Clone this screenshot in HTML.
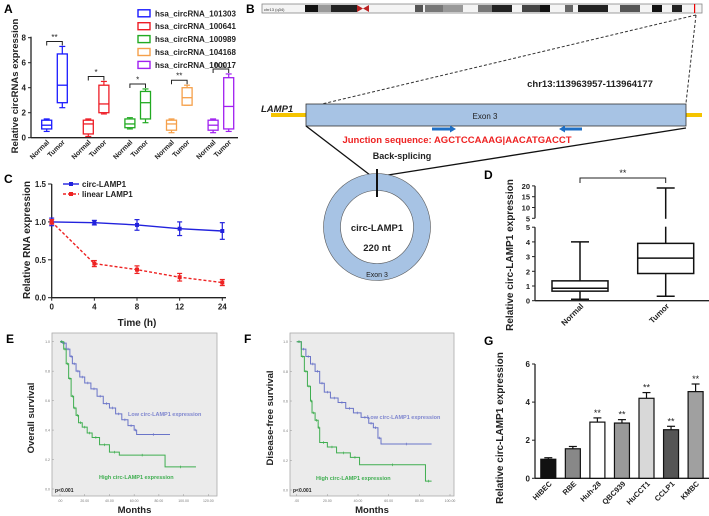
<!DOCTYPE html>
<html><head><meta charset="utf-8"><style>
html,body{margin:0;padding:0;background:#fff;}
svg{display:block;font-family:"Liberation Sans",Arial,sans-serif;}
</style></head><body>
<svg id="fig" width="709" height="516" viewBox="0 0 709 516" xmlns="http://www.w3.org/2000/svg">
<!-- Panel labels -->
<text x="4" y="13" font-size="12" font-weight="bold">A</text>
<text x="246" y="13" font-size="12" font-weight="bold">B</text>
<text x="4" y="183" font-size="12" font-weight="bold">C</text>
<text x="484" y="179" font-size="12" font-weight="bold">D</text>
<text x="6" y="343" font-size="12" font-weight="bold">E</text>
<text x="244" y="343" font-size="12" font-weight="bold">F</text>
<text x="484" y="345" font-size="12" font-weight="bold">G</text>

<!-- Panel B diagram -->
<g>
<rect x="262" y="4" width="440" height="9" fill="#f4f4f4" stroke="#888" stroke-width="0.8"/>
<g>
<text x="264" y="11" font-size="4" fill="#333">chr13 (q34)</text>
<rect x="305" y="5" width="13" height="7" fill="#111"/><rect x="318" y="5" width="13" height="7" fill="#999"/><rect x="331" y="5" width="26" height="7" fill="#222"/>
<path d="M357 5 L363 8.5 L357 12 Z M369 5 L363 8.5 L369 12 Z" fill="#b22"/>
<rect x="415" y="5" width="8" height="7" fill="#555"/><rect x="425" y="5" width="18" height="7" fill="#777"/><rect x="443" y="5" width="20" height="7" fill="#999"/>
<rect x="478" y="5" width="14" height="7" fill="#777"/><rect x="492" y="5" width="20" height="7" fill="#222"/><rect x="522" y="5" width="18" height="7" fill="#444"/>
<rect x="540" y="5" width="10" height="7" fill="#111"/><rect x="565" y="5" width="8" height="7" fill="#666"/><rect x="578" y="5" width="30" height="7" fill="#222"/>
<rect x="620" y="5" width="20" height="7" fill="#555"/><rect x="652" y="5" width="10" height="7" fill="#111"/><rect x="672" y="5" width="10" height="7" fill="#222"/>
<rect x="694" y="4" width="1.2" height="9" fill="#e00"/>
</g>
<line x1="696" y1="15" x2="322" y2="104" stroke="#333" stroke-width="1" stroke-dasharray="3,2"/>
<line x1="696" y1="15" x2="686" y2="103" stroke="#333" stroke-width="1" stroke-dasharray="3,2"/>
<text x="590" y="87" font-size="9.5" font-weight="bold" text-anchor="middle" fill="#222">chr13:113963957-113964177</text>
<rect x="271" y="113" width="431" height="4" fill="#f5c400"/>
<text x="261" y="112" font-size="9.5" font-weight="bold" font-style="italic" fill="#222">LAMP1</text>
<rect x="306" y="104" width="380" height="22" fill="#a7c3e4" stroke="#333" stroke-width="0.8"/>
<text x="485" y="119" font-size="8" text-anchor="middle" fill="#222">Exon 3</text>
<path d="M432 127.5 H450 V125.5 L456 129 L450 132.5 V130.5 H432 Z" fill="#1f6fc4"/>
<path d="M582 127.5 H565 V125.5 L559 129 L565 132.5 V130.5 H582 Z" fill="#1f6fc4"/>
<text x="457" y="143" font-size="9.5" font-weight="bold" text-anchor="middle" fill="#ee2222">Junction sequence: AGCTCCAAAG|AACATGACCT</text>
<line x1="306" y1="126" x2="370" y2="175" stroke="#111" stroke-width="1.3"/>
<line x1="686" y1="128" x2="388" y2="175" stroke="#111" stroke-width="1.3"/>
<text x="402" y="159" font-size="9" font-weight="bold" text-anchor="middle" fill="#222">Back-splicing</text>
<circle cx="377" cy="227" r="45" fill="none" stroke="#a7c3e4" stroke-width="17"/>
<circle cx="377" cy="227" r="53.5" fill="none" stroke="#555" stroke-width="0.6"/>
<circle cx="377" cy="227" r="36.5" fill="none" stroke="#555" stroke-width="0.6"/>
<line x1="377" y1="169" x2="377" y2="197" stroke="#111" stroke-width="2"/>
<text x="377" y="231" font-size="9.5" font-weight="bold" text-anchor="middle" fill="#222">circ-LAMP1</text>
<text x="377" y="251" font-size="9.5" font-weight="bold" text-anchor="middle" fill="#222">220 nt</text>
<text x="377" y="277" font-size="7" text-anchor="middle" fill="#222">Exon 3</text>
</g>
<g id="charts"></g>
</svg>
<script>
// ---------- Panel A data ----------
const aGroups = ["hsa_circRNA_101303","hsa_circRNA_100641","hsa_circRNA_100989","hsa_circRNA_104168","hsa_circRNA_100017"];
const aNormal = [[0.5,0.7,1.0,1.4,1.5],[0.1,0.3,1.1,1.4,1.5],[0.7,0.8,1.1,1.5,1.6],[0.4,0.6,1.1,1.4,1.5],[0.4,0.6,1.0,1.4,1.5]];
const aTumor = [[2.4,2.8,4.2,6.7,7.3],[1.9,2.0,2.7,4.2,4.5],[1.2,1.5,2.8,3.7,3.9],[2.6,2.6,3.2,4.0,4.2],[0.5,0.7,2.5,4.8,5.1]];
const aSig = ["**","*","*","**","n.s."];
const aTicks = [0,2,4,6,8];
// ---------- Panel C data ----------
const cTimes = ["0","4","8","12","24"];
const cCirc = [1.0,0.99,0.96,0.91,0.88];
const cCircErr = [0.05,0.03,0.07,0.09,0.11];
const cLinear = [1.0,0.45,0.37,0.27,0.20];
const cLinearErr = [0.03,0.04,0.05,0.05,0.04];
const cTicks = [0,0.5,1.0,1.5];
// ---------- Panel D data ----------
const dGroups = ["Normal","Tumor"];
const dStats = [[0.1,0.65,0.85,1.35,4.0],[0.3,1.85,2.9,3.9,19]];
const dLowTicks = [0,1,2,3,4,5];
const dHighTicks = [5,10,15,20];
// ---------- Panel E data ----------
const eLowMonths = [0,2,5,8,10,13,16,20,25,30,35,40,45,50,55,60,62,89];
const eLowSurv = [1.0,0.99,0.95,0.9,0.85,0.8,0.76,0.72,0.68,0.63,0.58,0.55,0.51,0.47,0.43,0.40,0.37,0.37];
const eHighMonths = [0,3,5,7,9,11,13,15,18,22,26,32,40,48,85,110];
const eHighSurv = [1.0,0.95,0.85,0.75,0.63,0.55,0.5,0.45,0.42,0.38,0.35,0.3,0.25,0.23,0.15,0.15];
const eXTicks = [0,20,40,60,80,100,120];
// ---------- Panel F data ----------
const fLowMonths = [0,3,6,9,12,15,18,22,27,32,37,42,47,50,53,55,88];
const fLowSurv = [1.0,0.95,0.9,0.85,0.8,0.72,0.66,0.62,0.59,0.55,0.52,0.49,0.45,0.42,0.35,0.31,0.31];
const fHighMonths = [0,3,5,7,9,10,12,14,15,20,26,35,41,84,88];
const fHighSurv = [1.0,0.9,0.8,0.7,0.6,0.52,0.47,0.42,0.32,0.29,0.25,0.22,0.17,0.06,0.06];
const fXTicks = [0,20,40,60,80,100];
const survTicks = [0,0.2,0.4,0.6,0.8,1.0];
// ---------- Panel G data ----------
const gLines = ["HIBEC","RBE","Huh-28","QBC939","HuCCT1","CCLP1","KMBC"];
const gValues = [1.0,1.55,2.95,2.9,4.2,2.55,4.55];
const gErr = [0.08,0.12,0.22,0.18,0.3,0.18,0.4];
const gSig = ["","","**","**","**","**","**"];
const gTicks = [0,2,4,6];

const NS = "http://www.w3.org/2000/svg";
const root = document.getElementById("charts");
function mk(tag, attrs, parent, txt){
  const el = document.createElementNS(NS, tag);
  for (const k in attrs) el.setAttribute(k, attrs[k]);
  if (txt !== undefined) el.textContent = txt;
  (parent || root).appendChild(el);
  return el;
}
function grp(parent){ return mk("g", {}, parent); }

// ================= Panel A =================
(function(){
  const g = grp();
  
  
  const colors = ["#1a1aff","#ee1c25","#22aa22","#f5a04a","#a020f0"];
  const y = v => 137.7 - v*12.5;
  const xN = i => 46.7 + i*41.6;
  const xT = i => 62.3 + i*41.6;
  mk("line",{x1:31,y1:y(8)-1,x2:31,y2:y(0),stroke:"#222","stroke-width":1.3},g);
  mk("line",{x1:31,y1:y(0),x2:238,y2:y(0),stroke:"#222","stroke-width":1.3},g);
  aTicks.forEach(t=>{
    mk("line",{x1:28,y1:y(t),x2:31,y2:y(t),stroke:"#222","stroke-width":1},g);
    const tl = mk("text",{x:26,y:y(t)+3,"font-size":8,"font-weight":"bold","text-anchor":"end",fill:"#222"},g,String(t));
    
    
  });
  const yl = mk("text",{x:0,y:0,"font-size":9.5,"font-weight":"bold","text-anchor":"middle",fill:"#222",transform:"translate(18,86) rotate(-90)"},g,"Relative circRNAs expression");
  
  
  function box(cx, s, col){
    const b = grp(g);
    
    
    const w=10;
    mk("line",{x1:cx,y1:y(s[0]),x2:cx,y2:y(s[4]),stroke:col,"stroke-width":1.2},b);
    mk("line",{x1:cx-3,y1:y(s[0]),x2:cx+3,y2:y(s[0]),stroke:col,"stroke-width":1.2},b);
    mk("line",{x1:cx-3,y1:y(s[4]),x2:cx+3,y2:y(s[4]),stroke:col,"stroke-width":1.2},b);
    mk("rect",{x:cx-w/2,y:y(s[3]),width:w,height:y(s[1])-y(s[3]),fill:"#fff",stroke:col,"stroke-width":1.3},b);
    mk("line",{x1:cx-w/2,y1:y(s[2]),x2:cx+w/2,y2:y(s[2]),stroke:col,"stroke-width":1.3},b);
  }
  aGroups.forEach((name,i)=>{
    box(xN(i), aNormal[i], colors[i]);
    box(xT(i), aTumor[i], colors[i]);
    const top = Math.max(aNormal[i][4], aTumor[i][4]);
    const by = Math.min(y(top)-5, y(Math.max(aTumor[i][4],1.5))-5);
    const br = mk("path",{d:`M${xN(i)} ${by+4} V${by} H${xT(i)} V${by+4}`,fill:"none",stroke:"#222","stroke-width":1},g);
    
    
    const st = mk("text",{x:(xN(i)+xT(i))/2,y:by-1.5,"font-size":8,"text-anchor":"middle",fill:"#222"},g,aSig[i]);
    
    
    ["Normal","Tumor"].forEach((lab,k)=>{
      const cx = k===0 ? xN(i) : xT(i);
      const xl = mk("text",{x:0,y:0,"font-size":7,"font-weight":"bold","text-anchor":"end",fill:"#222",transform:`translate(${cx+3},${y(0)+5}) rotate(-45)`},g,lab);
      
      
    });
    const lg = grp(g);
    
    
    const ly = 13.3 + i*12.9;
    mk("rect",{x:138,y:ly-3.5,width:12,height:7,fill:"#fff",stroke:colors[i],"stroke-width":1.4},lg);
    mk("text",{x:155,y:ly+3,"font-size":8,"font-weight":"bold",fill:"#222"},lg,name);
  });
})();

// ================= Panel C =================
(function(){
  const g = grp();
  
  
  const y = v => 297.7 - v*75.8;
  const x = i => 51.7 + i*42.65;
  mk("line",{x1:51.7,y1:y(1.5),x2:51.7,y2:y(0),stroke:"#222","stroke-width":1.3},g);
  mk("line",{x1:51.7,y1:y(0),x2:226,y2:y(0),stroke:"#222","stroke-width":1.3},g);
  cTicks.forEach(t=>{
    mk("line",{x1:48,y1:y(t),x2:51.7,y2:y(t),stroke:"#222","stroke-width":1},g);
    const tl = mk("text",{x:46,y:y(t)+3,"font-size":8,"font-weight":"bold","text-anchor":"end",fill:"#222"},g,t.toFixed(1));
    
    
  });
  cTimes.forEach((t,i)=>{
    mk("line",{x1:x(i),y1:y(0),x2:x(i),y2:y(0)+3,stroke:"#222","stroke-width":1},g);
    const tl = mk("text",{x:x(i),y:y(0)+12,"font-size":8,"font-weight":"bold","text-anchor":"middle",fill:"#222"},g,t);
    
    
  });
  const xt = mk("text",{x:137,y:326,"font-size":10,"font-weight":"bold","text-anchor":"middle",fill:"#222"},g,"Time (h)");
  
  
  const yt = mk("text",{x:0,y:0,"font-size":10,"font-weight":"bold","text-anchor":"middle",fill:"#222",transform:"translate(30,240) rotate(-90)"},g,"Relative RNA expression");
  
  
  function series(vals, errs, col, dash, name){
    const s = grp(g);
    
    
    mk("polyline",{points:vals.map((v,i)=>`${x(i)},${y(v)}`).join(" "),fill:"none",stroke:col,"stroke-width":1.4,"stroke-dasharray":dash},s);
    vals.forEach((v,i)=>{
      mk("line",{x1:x(i),y1:y(v+errs[i]),x2:x(i),y2:y(v-errs[i]),stroke:col,"stroke-width":1.2},s);
      mk("line",{x1:x(i)-2.5,y1:y(v+errs[i]),x2:x(i)+2.5,y2:y(v+errs[i]),stroke:col,"stroke-width":1.2},s);
      mk("line",{x1:x(i)-2.5,y1:y(v-errs[i]),x2:x(i)+2.5,y2:y(v-errs[i]),stroke:col,"stroke-width":1.2},s);
      mk("rect",{x:x(i)-2,y:y(v)-2,width:4,height:4,fill:col},s);
    });
  }
  series(cCirc,cCircErr,"#2222dd","none","series-circ-lamp1");
  series(cLinear,cLinearErr,"#ee2222","3,2","series-linear-lamp1");
  const l1 = grp(g);
  
  
  mk("line",{x1:63,y1:184,x2:79,y2:184,stroke:"#2222dd","stroke-width":1.4},l1);
  mk("rect",{x:69,y:182,width:4,height:4,fill:"#2222dd"},l1);
  mk("text",{x:82,y:187,"font-size":8,"font-weight":"bold",fill:"#222"},l1,"circ-LAMP1");
  const l2 = grp(g);
  
  
  mk("line",{x1:63,y1:194,x2:79,y2:194,stroke:"#ee2222","stroke-width":1.4,"stroke-dasharray":"3,2"},l2);
  mk("rect",{x:69,y:192,width:4,height:4,fill:"#ee2222"},l2);
  mk("text",{x:82,y:197,"font-size":8,"font-weight":"bold",fill:"#222"},l2,"linear LAMP1");
})();

// ================= Panel D =================
(function(){
  const g = grp();
  
  
  const yLow = v => 300.7 - v*14.7;
  const yHigh = v => 218.3 - (v-5)*2.16;
  const y = v => v <= 5 ? yLow(v) : yHigh(v);
  const ax = 535;
  mk("line",{x1:ax,y1:yLow(0),x2:ax,y2:yLow(5),stroke:"#222","stroke-width":1.3},g);
  mk("line",{x1:ax,y1:yHigh(5),x2:ax,y2:yHigh(20),stroke:"#222","stroke-width":1.3},g);
  mk("line",{x1:ax,y1:yLow(0),x2:709,y2:yLow(0),stroke:"#222","stroke-width":1.3},g);
  dLowTicks.forEach(t=>{
    mk("line",{x1:ax-3,y1:yLow(t),x2:ax,y2:yLow(t),stroke:"#222","stroke-width":1},g);
    const tl = mk("text",{x:ax-5,y:yLow(t)+3,"font-size":7.5,"font-weight":"bold","text-anchor":"end",fill:"#222"},g,String(t));
    
    
  });
  dHighTicks.forEach(t=>{
    mk("line",{x1:ax-3,y1:yHigh(t),x2:ax,y2:yHigh(t),stroke:"#222","stroke-width":1},g);
    const tl = mk("text",{x:ax-5,y:yHigh(t)+3,"font-size":7.5,"font-weight":"bold","text-anchor":"end",fill:"#222"},g,String(t));
    
    
  });
  const yt = mk("text",{x:0,y:0,"font-size":10,"font-weight":"bold","text-anchor":"middle",fill:"#222",transform:"translate(513,255) rotate(-90)"},g,"Relative circ-LAMP1 expression");
  
  
  const cx = i => 580 + i*85.7;
  dGroups.forEach((name,i)=>{
    const s = dStats[i];
    const b = grp(g);
    
    
    const w = 56, c = cx(i);
    mk("line",{x1:c,y1:y(s[0]),x2:c,y2:y(s[4]),stroke:"#111","stroke-width":1.5},b);
    mk("line",{x1:c-9,y1:y(s[0]),x2:c+9,y2:y(s[0]),stroke:"#111","stroke-width":1.5},b);
    mk("line",{x1:c-9,y1:y(s[4]),x2:c+9,y2:y(s[4]),stroke:"#111","stroke-width":1.5},b);
    mk("rect",{x:c-w/2,y:y(s[3]),width:w,height:y(s[1])-y(s[3]),fill:"#fff",stroke:"#111","stroke-width":1.5},b);
    mk("line",{x1:c-w/2,y1:y(s[2]),x2:c+w/2,y2:y(s[2]),stroke:"#111","stroke-width":1.5},b);
    const xl = mk("text",{x:0,y:0,"font-size":8,"font-weight":"bold","text-anchor":"end",fill:"#222",transform:`translate(${c+4},${yLow(0)+6}) rotate(-45)`},g,name);
    
    
  });
  // axis break gap on whisker
  mk("rect",{x:cx(1)-3,y:yHigh(5)+0.5,width:6,height:yLow(5)-yHigh(5)-1,fill:"#fff"},g);
  const br = mk("path",{d:`M${cx(0)} 183 V178 H${cx(1)} V183`,fill:"none",stroke:"#222","stroke-width":1},g);
  
  
  const st = mk("text",{x:(cx(0)+cx(1))/2,y:176,"font-size":9,"text-anchor":"middle",fill:"#222"},g,"**");
  
  
})();

// ================= Panels E & F (KM) =================
function km(opts){
  const g = grp();
  
  
  const x = m => opts.x0 + m*opts.sx;
  const y = v => opts.y0 - v*opts.sy;
  mk("rect",{x:opts.bx,y:opts.by,width:opts.bw,height:opts.bh,fill:"#ebebeb",stroke:"#aaa","stroke-width":0.8},g);
  survTicks.forEach(t=>{
    mk("line",{x1:opts.bx,y1:y(t),x2:opts.bx+2,y2:y(t),stroke:"#999","stroke-width":0.5},g);
    const tl = mk("text",{x:opts.bx-2,y:y(t)+1.5,"font-size":3.5,"text-anchor":"end",fill:"#777"},g,t.toFixed(1));
    
    
  });
  opts.xt.forEach(t=>{
    mk("line",{x1:x(t),y1:opts.by+opts.bh,x2:x(t),y2:opts.by+opts.bh-2,stroke:"#999","stroke-width":0.5},g);
    const tl = mk("text",{x:x(t),y:opts.by+opts.bh+6,"font-size":3.5,"text-anchor":"middle",fill:"#777"},g,t===0?".00":t.toFixed(2));
    
    
  });
  function curve(ms, ss, col, nm){
    let d = `M${x(ms[0])} ${y(ss[0])}`;
    for (let i=1;i<ms.length;i++){ d += ` H${x(ms[i])} V${y(ss[i])}`; }
    const p = mk("path",{d:d,fill:"none",stroke:col,"stroke-width":1},g);
    
    
    for (let i=1;i<ms.length;i++){
      const mx = (x(ms[i-1])+x(ms[i]))/2;
      mk("line",{x1:mx,y1:y(ss[i-1])-1.3,x2:mx,y2:y(ss[i-1])+1.3,stroke:col,"stroke-width":0.7},g);
    }
  }
  curve(opts.lowM, opts.lowS, "#6a74c8", "low-expression-curve");
  curve(opts.highM, opts.highS, "#3fae50", "high-expression-curve");
  const l1 = mk("text",{x:opts.lowLab[0],y:opts.lowLab[1],"font-size":5.5,"font-weight":"bold",fill:"#7f86cf"},g,"Low circ-LAMP1 expression");
  
  
  const l2 = mk("text",{x:opts.highLab[0],y:opts.highLab[1],"font-size":5.5,"font-weight":"bold",fill:"#3fae50"},g,"High circ-LAMP1 expression");
  
  
  const pv = mk("text",{x:opts.bx+3,y:opts.by+opts.bh-4,"font-size":5,"font-weight":"bold",fill:"#222"},g,"p<0.001");
  
  
  const xtl = mk("text",{x:opts.bx+opts.bw/2,y:513,"font-size":9.5,"font-weight":"bold","text-anchor":"middle",fill:"#222"},g,"Months");
  
  
  const ytl = mk("text",{x:0,y:0,"font-size":9.5,"font-weight":"bold","text-anchor":"middle",fill:"#222",transform:`translate(${opts.ylx},418) rotate(-90)`},g,opts.ytitle);
  
  
}
km({name:"panel-e-overall-survival",bx:52,by:333,bw:165,bh:163,x0:60,sx:1.236,y0:489,sy:147.3,xt:eXTicks,
  lowM:eLowMonths,lowS:eLowSurv,highM:eHighMonths,highS:eHighSurv,lowLab:[128,416],highLab:[99,479],ylx:34,ytitle:"Overall survival"});
km({name:"panel-f-disease-free-survival",bx:290,by:333,bw:164,bh:163,x0:296.7,sx:1.533,y0:490,sy:148.3,xt:fXTicks,
  lowM:fLowMonths,lowS:fLowSurv,highM:fHighMonths,highS:fHighSurv,lowLab:[367,419],highLab:[316,480],ylx:273,ytitle:"Disease-free survival"});

// ================= Panel G =================
(function(){
  const g = grp();
  
  
  const colors = ["#111","#888","#fff","#999","#d8d8d8","#555","#a0a0a0"];
  const y = v => 478.3 - v*19.05;
  const x = i => 548.3 + i*24.55;
  const ax = 535;
  mk("line",{x1:ax,y1:y(6),x2:ax,y2:y(0),stroke:"#222","stroke-width":1.3},g);
  mk("line",{x1:ax,y1:y(0),x2:709,y2:y(0),stroke:"#222","stroke-width":1.3},g);
  gTicks.forEach(t=>{
    mk("line",{x1:ax-3,y1:y(t),x2:ax,y2:y(t),stroke:"#222","stroke-width":1},g);
    const tl = mk("text",{x:ax-5,y:y(t)+3,"font-size":8,"font-weight":"bold","text-anchor":"end",fill:"#222"},g,String(t));
    
    
  });
  const yt = mk("text",{x:0,y:0,"font-size":10,"font-weight":"bold","text-anchor":"middle",fill:"#222",transform:"translate(503,428) rotate(-90)"},g,"Relative circ-LAMP1 expression");
  
  
  gLines.forEach((name,i)=>{
    const b = grp(g);
    
    
    const c = x(i), w = 15;
    mk("line",{x1:c,y1:y(gValues[i]),x2:c,y2:y(gValues[i]+gErr[i]),stroke:"#111","stroke-width":1.2},b);
    mk("line",{x1:c-4,y1:y(gValues[i]+gErr[i]),x2:c+4,y2:y(gValues[i]+gErr[i]),stroke:"#111","stroke-width":1.2},b);
    mk("rect",{x:c-w/2,y:y(gValues[i]),width:w,height:y(0)-y(gValues[i]),fill:colors[i],stroke:"#111","stroke-width":1.2},b);
    if (gSig[i]) {
      const st = mk("text",{x:c,y:y(gValues[i]+gErr[i])-2,"font-size":9,"text-anchor":"middle",fill:"#222"},g,gSig[i]);
      
      
    }
    const xl = mk("text",{x:0,y:0,"font-size":7.5,"font-weight":"bold","text-anchor":"end",fill:"#222",transform:`translate(${c+4},${y(0)+6}) rotate(-45)`},g,name);
    
    
  });
})();
</script>
</body></html>
